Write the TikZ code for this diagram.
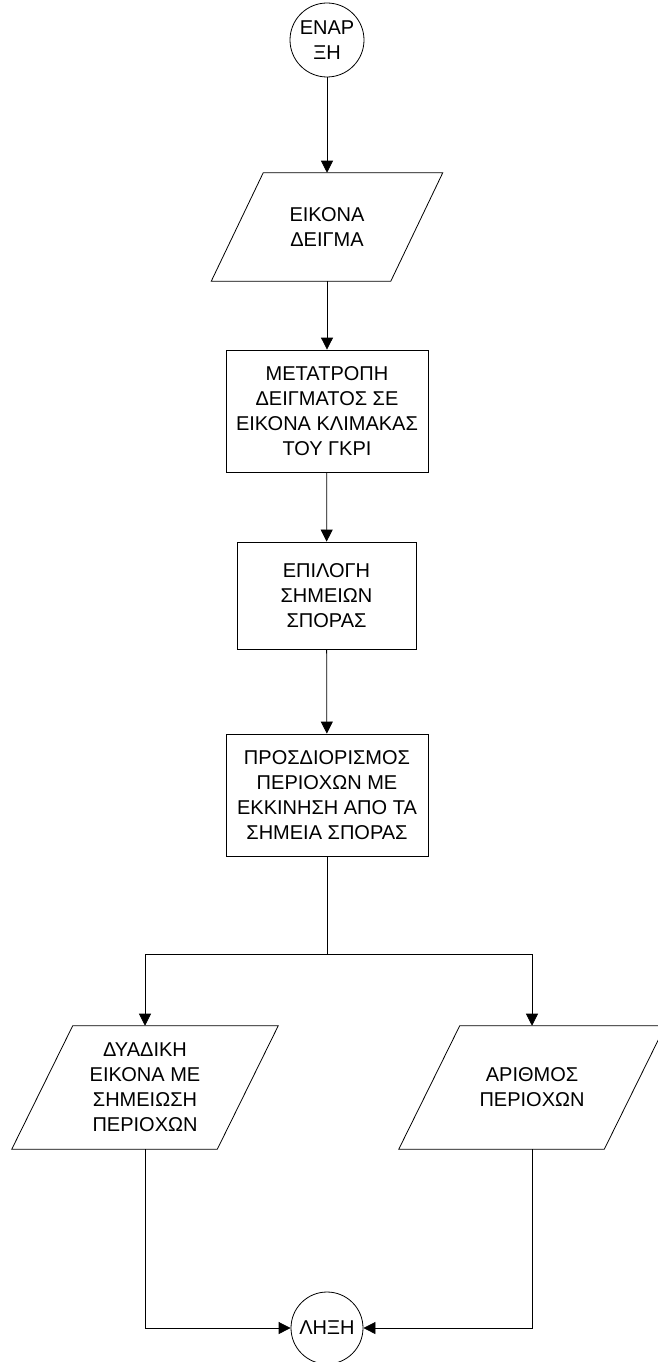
\documentclass[tikz,border=0pt]{standalone}
\usepackage{fontspec}
\setmainfont{Liberation Sans}
\usetikzlibrary{arrows.meta,calc}
% outline of a data (input/output) block around a borderless node
\newcommand\ioshape[2]{%
  \draw[line width=0.6pt] ($(#1.north west)+(#2,0)$) -- ($(#1.north east)+(#2,0)$)
    -- ($(#1.south east)-(#2,0)$) -- ($(#1.south west)-(#2,0)$) -- cycle;}
\begin{document}
\begin{tikzpicture}[x=0.75pt,y=-0.75pt,
  every node/.style={font=\fontsize{15}{18.75}\selectfont, align=center, inner sep=0pt},
  terminal/.style={circle, draw, line width=0.6pt, minimum size=55.5pt},
  process/.style={rectangle, draw, line width=0.6pt},
  io/.style={rectangle, draw=none},
  flow/.style={line width=0.6pt, -{Triangle[width=9pt,length=9pt]}},
  link/.style={line width=0.6pt}]
\useasboundingbox (0,0) rectangle (657,1362);

\node[terminal] (start) at (327,40) {ΕΝΑΡ\\ΞΗ};
\node[io, minimum width=134.25pt, minimum height=81pt] (sample) at (327,227) {ΕΙΚΟΝΑ\\ΔΕΙΓΜΑ};
\ioshape{sample}{26}
\node[process, minimum width=151.5pt, minimum height=91.5pt] (gray) at (327,411)
  {ΜΕΤΑΤΡΟΠΗ\\ΔΕΙΓΜΑΤΟΣ ΣΕ\\ΕΙΚΟΝΑ ΚΛΙΜΑΚΑΣ\\ΤΟΥ ΓΚΡΙ};
\node[process, minimum width=134.25pt, minimum height=80.25pt] (seeds) at (326.5,595.5)
  {ΕΠΙΛΟΓΗ\\ΣΗΜΕΙΩΝ\\ΣΠΟΡΑΣ};
\node[process, minimum width=151.5pt, minimum height=91.5pt] (grow) at (327,795)
  {ΠΡΟΣΔΙΟΡΙΣΜΟΣ\\ΠΕΡΙΟΧΩΝ ΜΕ\\ΕΚΚΙΝΗΣΗ ΑΠΟ ΤΑ\\ΣΗΜΕΙΑ ΣΠΟΡΑΣ};
\coordinate (split) at (327,954);
\node[io, minimum width=153.75pt, minimum height=92.25pt] (binary) at (145,1087.5)
  {ΔΥΑΔΙΚΗ\\ΕΙΚΟΝΑ ΜΕ\\ΣΗΜΕΙΩΣΗ\\ΠΕΡΙΟΧΩΝ};
\ioshape{binary}{30.5}
\node[io, minimum width=153.75pt, minimum height=92.25pt] (count) at (532,1087.5)
  {ΑΡΙΘΜΟΣ\\ΠΕΡΙΟΧΩΝ};
\ioshape{count}{30.5}
\node[terminal, minimum size=54pt] (stop) at (327,1328) {ΛΗΞΗ};

\draw[flow] (start) -- (sample);
\draw[flow] (sample) -- (gray);
\draw[flow] (gray) -- (seeds);
\draw[flow] (seeds) -- (grow);
\draw[link] (grow.south) -- (split);
\draw[flow] (split) -| (binary.north);
\draw[flow] (split) -| (count.north);
\draw[flow] (binary.south) |- (stop.west);
\draw[flow] (count.south) |- (stop.east);
\end{tikzpicture}
\end{document}
